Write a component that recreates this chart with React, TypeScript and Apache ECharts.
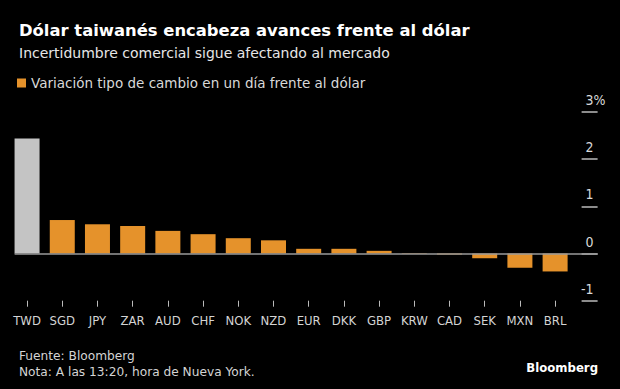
import React, { useEffect, useRef } from "react";
import * as echarts from "echarts";

const categories = ["TWD", "SGD", "JPY", "ZAR", "AUD", "CHF", "NOK", "NZD", "EUR", "DKK", "GBP", "KRW", "CAD", "SEK", "MXN", "BRL"];
const values = [2.44, 0.71, 0.62, 0.585, 0.48, 0.41, 0.325, 0.28, 0.1, 0.1, 0.057, -0.01, -0.02, -0.1, -0.3, -0.38];
const highlight = "TWD";
const yTicks = [-1, 0, 1, 2, 3];

const titleText = "Dólar taiwanés encabeza avances frente al dólar";
const subtitleText = "Incertidumbre comercial sigue afectando al mercado";
const legendText = "Variación tipo de cambio en un día frente al dólar";
const sourceText = "Fuente: Bloomberg";
const noteText = "Nota: A las 13:20, hora de Nueva York.";

const FONT = "'DejaVu Sans', sans-serif";
const FONT_COND = "'DejaVu Sans Condensed', 'DejaVu Sans', sans-serif";
const ORANGE = "#E5922B";
const GREY = "#C4C4C4";

export default function App() {
  const ref = useRef<HTMLDivElement>(null);
  useEffect(() => {
    if (!ref.current) return;
    const chart = echarts.init(ref.current, undefined, { renderer: "svg" });
    const idx = categories.map((_, i) => i);
    chart.setOption({
      animation: false,
      backgroundColor: "#000000",
      textStyle: { fontFamily: FONT },
      title: [
        { text: titleText, left: 14, top: 17, textStyle: { color: "#ffffff", fontSize: 16.4, fontWeight: "bold", fontFamily: FONT } },
        { text: subtitleText, left: 14, top: 41, textStyle: { color: "#e6e6e6", fontSize: 14, fontWeight: "normal", fontFamily: FONT } },
        { text: sourceText + "\n" + noteText, left: 14, top: 343, textStyle: { color: "#d4d4d4", fontSize: 12.2, fontWeight: "normal", lineHeight: 16, fontFamily: FONT } },
        { text: "Bloomberg", right: 17, top: 356, textStyle: { color: "#ffffff", fontSize: 13, fontWeight: "bold", fontFamily: FONT_COND } },
      ],
      legend: {
        left: 12,
        top: 71,
        icon: "rect",
        itemWidth: 9,
        itemHeight: 9,
        itemGap: 6,
        textStyle: { color: "#d9d9d9", fontSize: 13.5, fontFamily: FONT },
        data: [legendText],
      },
      grid: { left: 14.6, right: 22.4, top: 112, bottom: 88.3, containLabel: false },
      xAxis: {
        type: "value",
        min: -0.354,
        max: 16.207,
        position: "bottom",
        axisLine: { show: false, onZero: false },
        splitLine: { show: false },
        axisTick: { show: true, length: 6, customValues: idx, lineStyle: { color: "#bbbbbb", width: 1 } },
        axisLabel: {
          show: true,
          customValues: idx,
          margin: 13,
          color: "#d4d4d4",
          fontSize: 13,
          fontFamily: FONT_COND,
          formatter: (v: number) => categories[Math.round(v)] ?? "",
        },
      },
      yAxis: {
        type: "value",
        position: "right",
        min: -1,
        max: 3,
        interval: 1,
        axisLine: { show: false, onZero: false },
        splitLine: { show: false },
        axisTick: { show: true, inside: true, length: 16, lineStyle: { color: "#bbbbbb", width: 1.5 } },
        axisLabel: {
          inside: true,
          margin: -8,
          align: "right",
          verticalAlign: "bottom",
          padding: [0, 0, 5, 0],
          formatter: (v: number) => (v === yTicks[yTicks.length - 1] ? `{a|${v}}{b|%}` : `{a|${v}}{c|%}`),
          rich: {
            a: { color: "#d9d9d9", fontSize: 14, fontFamily: FONT_COND },
            b: { color: "#d9d9d9", fontSize: 14, fontFamily: FONT_COND },
            c: { color: "transparent", fontSize: 14, fontFamily: FONT_COND },
          },
        },
      },
      series: [
        {
          name: legendText,
          type: "bar",
          barWidth: 25,
          itemStyle: { color: ORANGE },
          data: values.map((v, i) => ({
            value: [i, v],
            itemStyle: { color: categories[i] === highlight ? GREY : ORANGE },
          })),
          markLine: {
            silent: true,
            symbol: ["none", "none"],
            label: { show: false },
            lineStyle: { color: "#9a9a9a", width: 1.5, type: "solid" },
            data: [{ yAxis: 0 }],
          },
        },
      ],
    });
    return () => chart.dispose();
  }, []);
  return <div ref={ref} style={{ width: 620, height: 389, position: "absolute", left: 0, top: 0 }} />;
}
